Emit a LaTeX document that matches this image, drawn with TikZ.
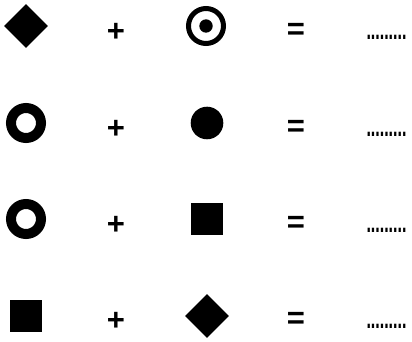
\documentclass[tikz,border=0pt]{standalone}
\usepackage{fontspec}
\setmainfont{Liberation Sans}
\usetikzlibrary{shapes.geometric}
\begin{document}
\begin{tikzpicture}[x=1pt,y=-1pt,
  diam/.style={diamond,fill=black,inner sep=0pt,minimum width=44pt,minimum height=44pt},
  sq/.style={rectangle,fill=black,inner sep=0pt,minimum size=32.5pt},
  disc/.style={circle,fill=black,inner sep=0pt,minimum size=32.6pt},
  ring/.style={circle,draw=black,line width=10pt,inner sep=0pt,minimum size=30pt},
  tring/.style={circle,draw=black,line width=5pt,inner sep=0pt,minimum size=35pt},
  tdot/.style={circle,fill=black,inner sep=0pt,minimum size=13.4pt},
  op/.style={inner sep=0pt,font=\bfseries\fontsize{31}{36}\selectfont},
  blank/.style={inner sep=0pt,anchor=base,font=\bfseries\fontsize{16}{20}\selectfont}]
\useasboundingbox (0,0) rectangle (412,342);
% row 1
\node[diam] (a1) at (26,26) {};
\node[op] (p1) at (116,32) {+};
\node[tring] (b1) at (206,26) {};
\node[tdot] (b1c) at (206,26) {};
\node[op] (e1) at (296,31) {=};
\node[blank] (r1) at (386.5,40) {\scalebox{1}[1.8]{.........}};
% row 2
\node[ring] (a2) at (26,123) {};
\node[op] (p2) at (116,129) {+};
\node[disc] (b2) at (207,123) {};
\node[op] (e2) at (296,128) {=};
\node[blank] (r2) at (386.5,136) {\scalebox{1}[1.8]{.........}};
% row 3
\node[ring] (a3) at (26,219) {};
\node[op] (p3) at (116,225) {+};
\node[sq] (b3) at (207,219) {};
\node[op] (e3) at (296,224) {=};
\node[blank] (r3) at (386.5,232.5) {\scalebox{1}[1.8]{.........}};
% row 4
\node[sq] (a4) at (26,316) {};
\node[op] (p4) at (116,321) {+};
\node[diam] (b4) at (207,316) {};
\node[op] (e4) at (296,320) {=};
\node[blank] (r4) at (386.5,328) {\scalebox{1}[1.8]{.........}};
\end{tikzpicture}
\end{document}
